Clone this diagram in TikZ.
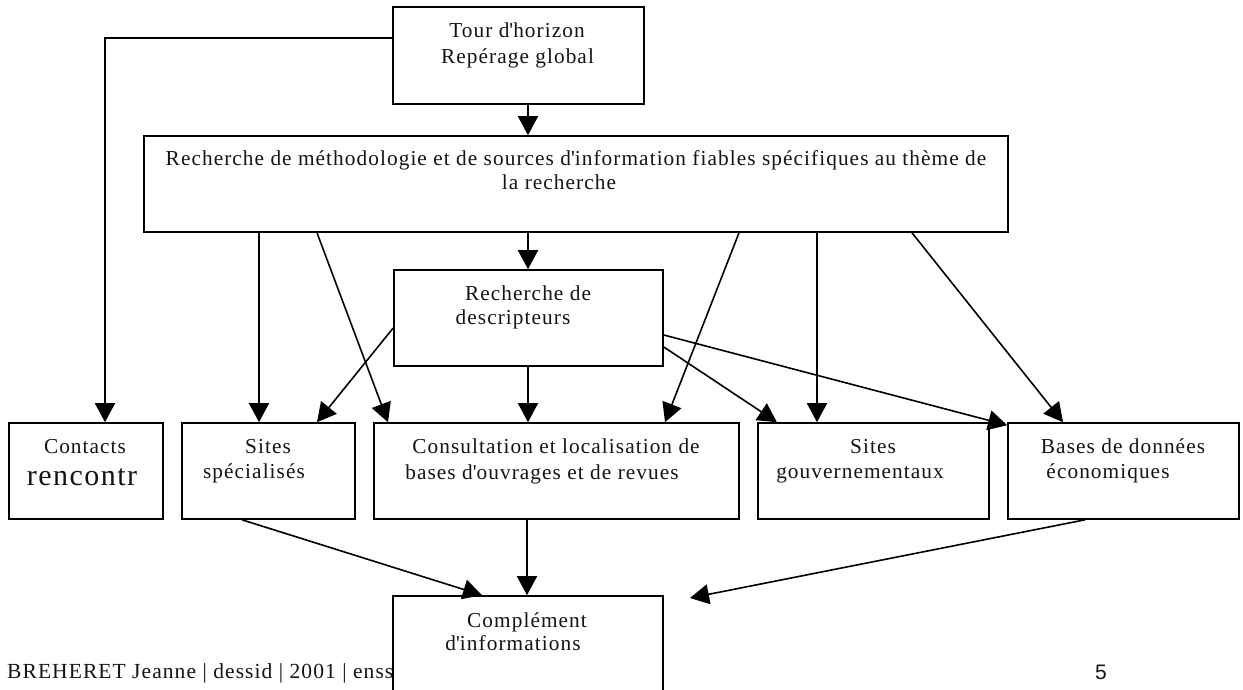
\documentclass[tikz,border=0pt]{standalone}
\usepackage{fontspec}
\setmainfont{Liberation Serif}[LetterSpace=5]
\newfontfamily\footsans{Liberation Sans}
\usetikzlibrary{arrows.meta}
\newcommand{\apos}{\textquotesingle}
\tikzset{
  box/.style={draw=black, line width=1.6pt, fill=white, inner sep=0pt, rectangle},
  txt/.style={anchor=base, inner sep=0pt, font=\fontsize{21.3}{25}\selectfont, text=black!92},
  arr/.style={line width=1.6pt, -{Triangle[length=19pt,width=20pt]}},
}
\begin{document}
\begin{tikzpicture}[x=1pt,y=-1pt]
\clip (0,0) rectangle (1243,689);
\fill[white] (0,0) rectangle (1243,689);

% footer (behind the bottom box)
\node[txt, anchor=base west, font=\fontsize{21.5}{24}\selectfont] (foot) at (7,678) {BREHERET Jeanne | dessid | 2001 | enss};
\node[txt, font=\footsans\fontsize{21}{24}\selectfont] (page) at (1101,679) {5};

% boxes
\node[box, minimum width=251pt, minimum height=97pt] (top) at (518.5,55.5) {};
\node[box, minimum width=864pt, minimum height=96pt] (big) at (576,184) {};
\node[box, minimum width=269pt, minimum height=96pt] (desc) at (528.5,318) {};
\node[box, minimum width=154pt, minimum height=96pt] (contacts) at (86,471) {};
\node[box, minimum width=173pt, minimum height=96pt] (sites) at (268.5,471) {};
\node[box, minimum width=365pt, minimum height=96pt] (consult) at (556.5,471) {};
\node[box, minimum width=231pt, minimum height=96pt] (gouv) at (873.5,471) {};
\node[box, minimum width=231pt, minimum height=96pt] (bases) at (1123.5,471) {};
\node[box, minimum width=270pt, minimum height=140pt] (compl) at (528,666) {};

% texts
\node[txt] (top1) at (517,37) {Tour d\apos horizon};
\node[txt] (top2) at (517.5,63) {Repérage global};
\node[txt] (big1) at (576,165) {Recherche de méthodologie et de sources d\apos information fiables spécifiques au thème de};
\node[txt] (big2) at (559,189) {la recherche};
\node[txt] (desc1) at (528,300) {Recherche de};
\node[txt] (desc2) at (513,324) {descripteurs};
\node[txt] (con1) at (85,453) {Contacts};
\node[txt, font=\fontsize{30}{34}\selectfont] (con2) at (82,485) {rencontr};
\node[txt] (sit1) at (268,453) {Sites};
\node[txt] (sit2) at (254,478) {spécialisés};
\node[txt] (cons1) at (556,453) {Consultation et localisation de};
\node[txt] (cons2) at (542,479) {bases d\apos ouvrages et de revues};
\node[txt] (gou1) at (873,453) {Sites};
\node[txt] (gou2) at (860,478) {gouvernementaux};
\node[txt] (bas1) at (1123,453) {Bases de données};
\node[txt] (bas2) at (1108,478) {économiques};
\node[txt] (com1) at (527,627) {Complément};
\node[txt] (com2) at (513,650) {d\apos informations};

% connectors
\draw[arr] ([yshift=-32pt]top.north west) -| ([xshift=19pt]contacts.north);
\draw[arr] ([xshift=9.5pt]top.south) -- ([xshift=-48pt]big.north);
\draw[arr] ([xshift=-317pt]big.south) -- ([xshift=-9.5pt]sites.north);
\draw[arr] ([xshift=-259pt]big.south) -- ([xshift=-168.5pt]consult.north);
\draw[arr] ([xshift=-48pt]big.south) -- ([xshift=-0.5pt]desc.north);
\draw[arr] ([xshift=163pt]big.south) -- ([xshift=108.5pt]consult.north);
\draw[arr] ([xshift=241pt]big.south) -- ([xshift=-56.5pt]gouv.north);
\draw[arr] ([xshift=336pt]big.south) -- ([xshift=-60.5pt]bases.north);
\draw[arr] ([yshift=-10pt]desc.west) -- ([xshift=48.5pt]sites.north);
\draw[arr] ([xshift=-0.5pt]desc.south) -- ([xshift=-28.5pt]consult.north);
\draw[arr] ([yshift=-29pt]desc.east) -- ([xshift=-96.5pt]gouv.north);
\draw[arr] ([yshift=-17pt]desc.east) -- ([yshift=-3pt]bases.north west);
\draw[arr] ([xshift=-26.5pt]sites.south) -- ([xshift=-46pt]compl.north);
\draw[arr] ([xshift=-29.5pt]consult.south) -- ([xshift=-1pt]compl.north);
\coordinate (free) at (690,598);
\draw[arr] ([xshift=-38.5pt]bases.south) -- (free);
\end{tikzpicture}
\end{document}
